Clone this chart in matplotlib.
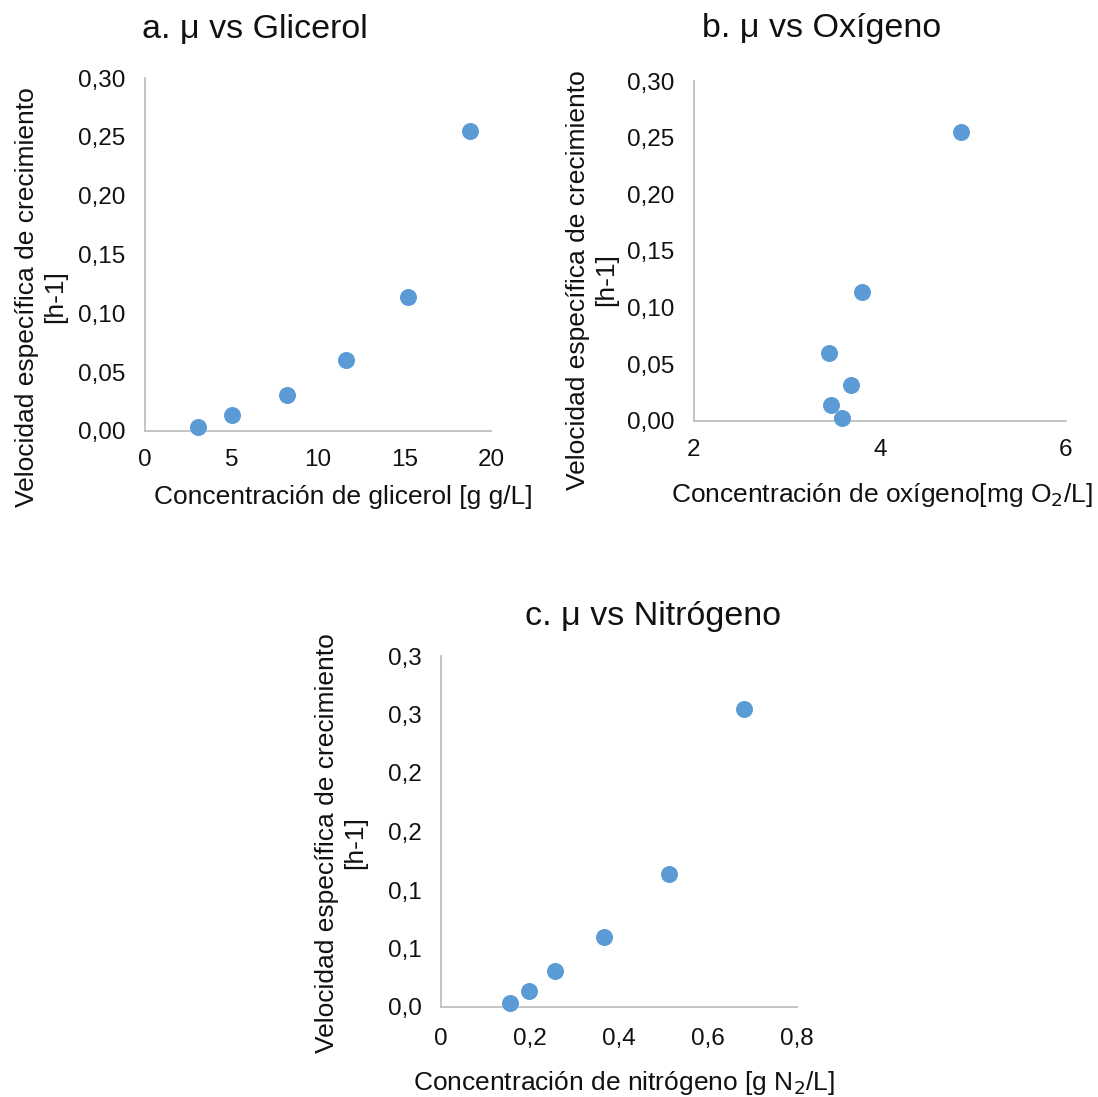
import matplotlib
matplotlib.use("Agg")
import matplotlib.pyplot as plt

plt.rcParams['font.family'] = ['Liberation Sans', 'DejaVu Sans']

# specific growth rate [h-1], same for the three substrates
mu = [0.003, 0.014, 0.031, 0.060, 0.114, 0.255]

glicerol = [3.05, 5.05, 8.2, 11.6, 15.2, 18.8]
oxigeno = [3.59, 3.47, 3.69, 3.45, 3.81, 4.87]
mu_oxigeno = [0.003, 0.014, 0.032, 0.060, 0.114, 0.255]
nitrogeno = [0.155, 0.198, 0.256, 0.366, 0.512, 0.681]

yticks_ab = [0.0, 0.05, 0.10, 0.15, 0.20, 0.25, 0.30]
yticklabels_ab = ["0,00", "0,05", "0,10", "0,15", "0,20", "0,25", "0,30"]
yticks_c = [0.0, 0.05, 0.10, 0.15, 0.20, 0.25, 0.30]
yticklabels_c = ["0,0", "0,1", "0,1", "0,2", "0,2", "0,3", "0,3"]

xticks_a = [0, 5, 10, 15, 20]
xticklabels_a = ["0", "5", "10", "15", "20"]
xticks_b = [2, 4, 6]
xticklabels_b = ["2", "4", "6"]
xticks_c = [0, 0.2, 0.4, 0.6, 0.8]
xticklabels_c = ["0", "0,2", "0,4", "0,6", "0,8"]

W, H = 1098, 1097
fig = plt.figure(figsize=(W / 100, H / 100), dpi=100)

blue = "#5B9BD5"
grey = "#BFBFBF"
ink = "#111111"
ylab = "Velocidad específica de crecimiento\n[h-1]"


def box(l, t, r, b):
    return [l / W, 1 - b / H, (r - l) / W, (b - t) / H]


def style(ax, xt, xtl, xlim, yt, ytl, xpad):
    for s in ["top", "right"]:
        ax.spines[s].set_visible(False)
    for s in ["left", "bottom"]:
        ax.spines[s].set_color(grey)
        ax.spines[s].set_linewidth(1.3)
    ax.set_xlim(*xlim)
    ax.set_ylim(0, 0.30)
    ax.set_xticks(xt)
    ax.set_xticklabels(xtl)
    ax.set_yticks(yt)
    ax.set_yticklabels(ytl)
    ax.tick_params(axis="both", length=0, labelsize=17.5, labelcolor=ink)
    ax.tick_params(axis="x", pad=xpad)
    ax.tick_params(axis="y", pad=14)


# a. glycerol
ax1 = fig.add_axes(box(145, 78, 491, 431))
ax1.scatter(glicerol, mu, s=150, color=blue, zorder=3, clip_on=False, linewidths=0)
style(ax1, xticks_a, xticklabels_a, (0, 20), yticks_ab, yticklabels_ab, 13)

# b. oxygen
ax2 = fig.add_axes(box(694, 81, 1066, 421))
ax2.scatter(oxigeno, mu_oxigeno, s=150, color=blue, zorder=3, clip_on=False, linewidths=0)
style(ax2, xticks_b, xticklabels_b, (2, 6), yticks_ab, yticklabels_ab, 13)

# c. nitrogen
ax3 = fig.add_axes(box(441, 656, 797, 1007))
ax3.scatter(nitrogeno, mu, s=150, color=blue, zorder=3, clip_on=False, linewidths=0)
style(ax3, xticks_c, xticklabels_c, (0, 0.8), yticks_c, yticklabels_c, 15)

# titles and axis labels
tfs = 24.5
lfs = 19
fig.text(255 / W, 1 - 29 / H, "a. μ vs Glicerol", fontsize=tfs, ha="center", va="center", color=ink)
fig.text(822 / W, 1 - 29 / H, "b. μ vs Oxígeno", fontsize=tfs, ha="center", va="center", color=ink)
fig.text(653 / W, 1 - 617 / H, "c. μ vs Nitrógeno", fontsize=tfs, ha="center", va="center", color=ink)

for xp, yp in [(41, 297), (592, 280), (341, 843)]:
    fig.text(xp / W, 1 - yp / H, ylab, fontsize=lfs, rotation=90, ha="center", va="center",
             multialignment="center", linespacing=1.2, color=ink)

fig.text(343 / W, 1 - 497 / H, "Concentración de glicerol [g g/L]", fontsize=lfs,
         ha="center", va="center", color=ink)
fig.text(882 / W, 1 - 495 / H, "Concentración de oxígeno[mg O$_2$/L]", fontsize=lfs,
         ha="center", va="center", color=ink)
fig.text(624 / W, 1 - 1083 / H, "Concentración de nitrógeno [g N$_2$/L]", fontsize=lfs,
         ha="center", va="center", color=ink)

fig.savefig("out.png", dpi=100, facecolor="white")
